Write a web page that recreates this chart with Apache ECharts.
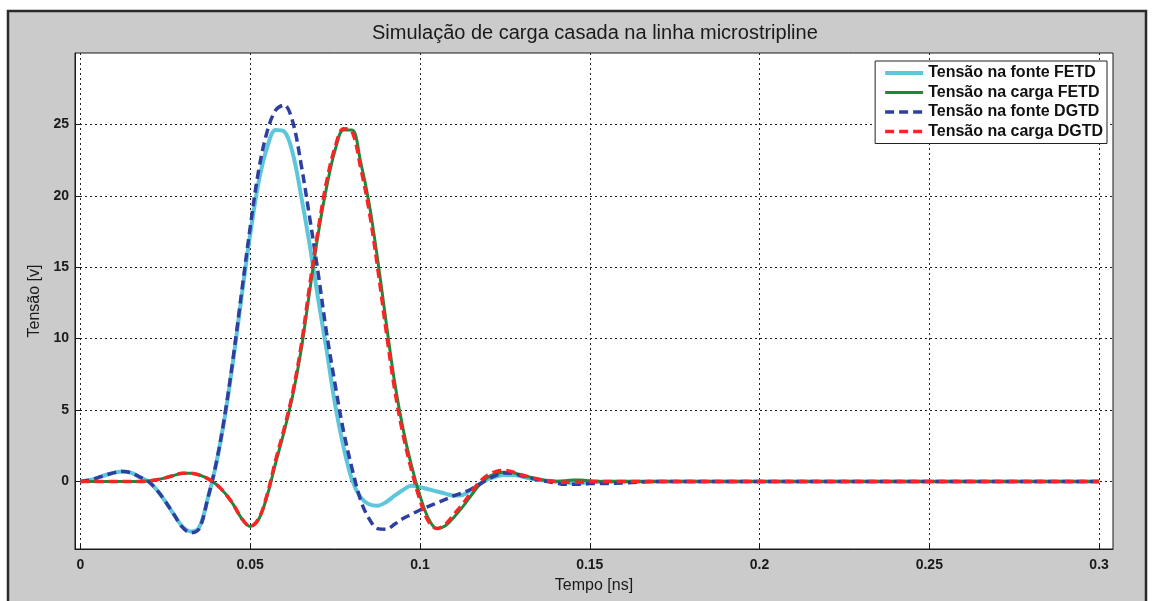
<!DOCTYPE html>
<html>
<head>
<meta charset="utf-8">
<script src="https://cdn.jsdelivr.net/npm/echarts@6/dist/echarts.min.js"></script>
<style>
html,body{margin:0;padding:0;background:#fff;}
#chart{width:1153px;height:601px;}
</style>
</head>
<body>
<div id="chart"></div>
<script>
// ---- data ----
const titleText = 'Simulação de carga casada na linha microstripline';
const xName = 'Tempo [ns]';
const yName = 'Tensão [v]';
const seriesNames = ['Tensão na fonte FETD', 'Tensão na carga FETD', 'Tensão na fonte DGTD', 'Tensão na carga DGTD'];
const xTicks = [0, 0.05, 0.1, 0.15, 0.2, 0.25, 0.3];
const yTicks = [0, 5, 10, 15, 20, 25];

const T = [0,0.0025,0.005,0.0075,0.01,0.0125,0.015,0.0175,0.02,0.0225,
  0.025,0.0275,0.03,0.0325,0.035,0.0375,0.04,0.0425,0.045,0.0475,
  0.05,0.0525,0.055,0.0575,0.06,0.0625,0.065,0.0675,0.07,0.0725,
  0.075,0.0775,0.08,0.0825,0.085,0.0875,0.09,0.0925,0.095,0.0975,
  0.1,0.1025,0.105,0.1075,0.11,0.1125,0.115,0.1175,0.12,0.1225,
  0.125,0.1275,0.13,0.1325,0.135,0.1375,0.14,0.1425,0.145,0.1475,
  0.15,0.155,0.16,0.17,0.18,0.2,0.25,0.3];

const fonteFETD = [0,0.08,0.25,0.45,0.62,0.7,0.6,0.3,0,-0.6,
  -1.4,-2.3,-3.15,-3.5,-3.2,-1.2,1.25,4.5,8.5,13.0,
  17.3,21.0,23.4,24.6,24.5,23.0,20.0,16.6,12.8,9.2,
  5.4,2.4,0.1,-1.1,-1.6,-1.7,-1.45,-1.0,-0.6,-0.3,
  -0.4,-0.55,-0.7,-0.85,-1.0,-0.95,-0.6,-0.2,0.15,0.35,
  0.45,0.45,0.35,0.2,0.1,0.05,0,-0.05,-0.1,-0.1,
  -0.05,0,0,0,0,0,0,0];

const cargaFETD = [0,0,0,0,0,0,0,0,0.03,0.12,
  0.25,0.42,0.57,0.58,0.45,0.2,-0.2,-0.8,-1.6,-2.6,
  -3.15,-2.65,-1.0,1.3,3.5,6.0,9.2,13.3,17.3,20.6,
  23.2,24.6,24.6,22.4,19.5,15.6,11.2,7.0,3.7,1.1,
  -1.0,-2.6,-3.3,-3.1,-2.5,-1.8,-1.0,-0.25,0.3,0.55,
  0.65,0.6,0.45,0.3,0.15,0.05,0,0.05,0.1,0.1,
  0.05,0,0,0,0,0,0,0];

const fonteDGTD = [0,0.08,0.25,0.45,0.62,0.7,0.6,0.3,0,-0.6,
  -1.4,-2.3,-3.2,-3.6,-3.3,-1.2,1.3,4.6,8.7,13.3,
  17.8,21.8,24.5,26.0,26.35,25.2,22.2,18.5,14.6,10.4,
  6.8,3.5,0.9,-1.3,-2.6,-3.3,-3.35,-3.0,-2.6,-2.3,
  -2.0,-1.75,-1.5,-1.25,-1.0,-0.8,-0.55,-0.2,0.15,0.45,
  0.6,0.55,0.4,0.25,0.1,0,-0.1,-0.2,-0.2,-0.2,
  -0.15,-0.15,-0.1,0,0,0,0,0];

const cargaDGTD = [0,0,0,0,0,0,0,0,0.03,0.12,
  0.25,0.42,0.57,0.58,0.45,0.2,-0.2,-0.8,-1.6,-2.6,
  -3.15,-2.6,-0.9,1.5,3.7,6.2,9.5,13.7,17.6,21.0,
  23.4,24.7,24.5,22.0,19.0,15.0,10.6,6.5,3.3,0.8,
  -1.3,-2.8,-3.3,-3.0,-2.3,-1.6,-0.8,-0.05,0.45,0.7,
  0.77,0.65,0.45,0.3,0.15,0.05,0,-0.05,-0.05,-0.05,
  0,0,0,0,0,0,0,0];

// ---- chart ----
const pair = (ys) => T.map((t, i) => [t, ys[i]]);
const FONT = '"Liberation Sans", Arial, sans-serif';
const chart = echarts.init(document.getElementById('chart'), null, {renderer: 'canvas'});

const styles = [
  {color: '#5ec6da', width: 4, type: 'solid'},
  {color: '#1c8a3c', width: 3, type: 'solid'},
  {color: '#2f3f9f', width: 3.5, type: [9, 5]},
  {color: '#fb2424', width: 3.5, type: [9, 5]}
];
const dataSets = [fonteFETD, cargaFETD, fonteDGTD, cargaDGTD];

chart.setOption({
  backgroundColor: '#cbcbcb',
  animation: false,
  title: {
    text: titleText,
    left: 372,
    top: 23,
    padding: 0,
    textStyle: {fontFamily: FONT, fontSize: 20, fontWeight: 'normal', color: '#1a1a1a'}
  },
  legend: {
    right: 46,
    top: 61,
    orient: 'vertical',
    backgroundColor: '#ffffff',
    borderColor: '#222',
    borderWidth: 1,
    borderRadius: 0,
    padding: [4, 4, 4, 8],
    itemWidth: 38,
    itemHeight: 12,
    itemGap: 3.5,
    itemStyle: {opacity: 0},
    lineStyle: {width: 'inherit'},
    textStyle: {fontFamily: FONT, fontSize: 16, fontWeight: 'bold', color: '#111'},
    data: seriesNames
  },
  grid: {
    left: 75, right: 40, top: 53, bottom: 52,
    show: true, backgroundColor: '#ffffff', borderColor: '#1a1a1a', borderWidth: 1
  },
  xAxis: {
    type: 'value',
    min: -0.0016,
    max: 0.3041,
    name: xName,
    nameLocation: 'middle',
    nameGap: 29,
    nameTextStyle: {fontFamily: FONT, fontSize: 16, color: '#1a1a1a'},
    axisLine: {show: true, onZero: false, lineStyle: {color: '#1a1a1a', width: 1}},
    axisTick: {show: true, inside: true, length: 5, customValues: xTicks, lineStyle: {color: '#1a1a1a'}},
    axisLabel: {customValues: xTicks, fontFamily: FONT, fontSize: 14, fontWeight: 'bold', color: '#1a1a1a', margin: 9,
      formatter: (v) => String(v)},
    splitLine: {show: true, lineStyle: {color: '#222', width: 1, type: [2, 3]}}
  },
  yAxis: {
    type: 'value',
    min: -4.73,
    max: 30,
    name: yName,
    nameLocation: 'middle',
    nameGap: 30,
    nameTextStyle: {fontFamily: FONT, fontSize: 16, color: '#1a1a1a'},
    axisLine: {show: true, onZero: false, lineStyle: {color: '#1a1a1a', width: 1}},
    axisTick: {show: true, inside: true, length: 5, customValues: yTicks, lineStyle: {color: '#1a1a1a'}},
    axisLabel: {customValues: yTicks, fontFamily: FONT, fontSize: 14, fontWeight: 'bold', color: '#1a1a1a', margin: 6},
    splitLine: {show: true, lineStyle: {color: '#222', width: 1, type: [2, 3]}}
  },
  graphic: [
    {type: 'rect', shape: {x: 0, y: 0, width: 1153, height: 10}, style: {fill: '#ffffff'}, silent: true},
    {type: 'rect', shape: {x: 0, y: 0, width: 7, height: 601}, style: {fill: '#ffffff'}, silent: true},
    {type: 'rect', shape: {x: 1147, y: 0, width: 6, height: 601}, style: {fill: '#ffffff'}, silent: true},
    {type: 'polyline', shape: {points: [[8, 602], [8, 11], [1146, 11], [1146, 602]]},
      style: {stroke: '#2a2a2a', lineWidth: 2.5, fill: null}, silent: true}
  ],
  series: seriesNames.map((name, k) => ({
    name: name,
    type: 'line',
    data: pair(dataSets[k]),
    smooth: 0.35,
    symbol: 'none',
    showSymbol: false,
    z: 2 + k,
    lineStyle: {color: styles[k].color, width: styles[k].width, type: styles[k].type},
    itemStyle: {color: styles[k].color}
  }))
});
</script>
</body>
</html>
